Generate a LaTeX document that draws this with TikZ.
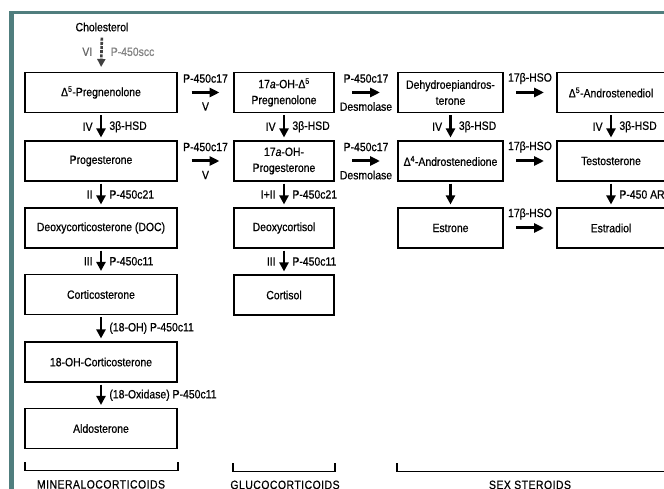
\documentclass[tikz,border=0pt]{standalone}
\usepackage{fontspec}
\setmainfont{Liberation Sans}[FakeStretch=0.87,FakeBold=0.6]
\usetikzlibrary{arrows.meta,calc}
\definecolor{framecol}{RGB}{80,126,126}
\definecolor{faint}{RGB}{130,130,130}

% one enzymatic step downwards: from, to, left label, right label
\newcommand{\enzstep}[4]{%
  \draw[dnarrow] (#1.south) -- (#2.north)
    node[midway, left=7pt] {#3}
    node[midway, right=7pt] {#4};}
% one enzymatic step to the right: from, to, label above, label below
\newcommand{\enzside}[4]{%
  \draw[rtarrow] ($(#1.east)!0.5!(#2.west)+(-14,0)$) -- ++(28,0);
  \path ($(#1.east)!0.5!(#2.west)$) node[yshift=14pt] {#3} node[yshift=-14pt] {#4};}

\begin{document}
\begin{tikzpicture}[x=1pt,y=-1pt,
  every node/.style={font=\fontsize{12}{16}\selectfont, inner sep=0pt},
  box/.style={draw, line width=1.1pt, minimum height=40pt, align=center},
  dnarrow/.style={line width=2.8pt, -{Triangle[width=9pt,length=9pt]},
                  shorten <=2pt, shorten >=3pt},
  rtarrow/.style={line width=3pt, -{Triangle[width=9pt,length=10pt]}},
  bracket/.style={line width=1.8pt},
  group/.style={font=\fontsize{12}{14}\selectfont\addfontfeatures{LetterSpace=4}, anchor=base}
]
\clip (0,0) rectangle (664,489);
\fill[white] (0,0) rectangle (664,489);
% frame
\fill[framecol] (9,11) rectangle (13.5,489);
\fill[framecol] (9,11) rectangle (664,14.5);

% mineralocorticoid column
\node (chol) at (102,27) {Cholesterol};
\node[box, minimum width=152pt] (preg)   at (101,92.5) {Δ\textsuperscript{5}-Pregnenolone};
\node[box, minimum width=152pt] (prog)   at (101,161)  {Progesterone};
\node[box, minimum width=152pt] (doc)    at (101,228)  {Deoxycorticosterone (DOC)};
\node[box, minimum width=152pt] (cort)   at (101,294.5){Corticosterone};
\node[box, minimum width=152pt] (ohcort) at (101,362)  {18-OH-Corticosterone};
\node[box, minimum width=152pt] (aldo)   at (101,428.5){Aldosterone};

% glucocorticoid column
\node[box, minimum width=100pt] (ohpreg) at (284,92.5) {17\textit{a}-OH-Δ\textsuperscript{5}\\Pregnenolone};
\node[box, minimum width=100pt] (ohprog) at (284,161)  {17\textit{a}-OH-\\Progesterone};
\node[box, minimum width=100pt] (dcol)   at (284,228)  {Deoxycortisol};
\node[box, minimum width=100pt] (cortis) at (284,295)  {Cortisol};

% sex steroid columns
\node[box, minimum width=105pt] (dhea)   at (450.5,92.5) {Dehydroepiandros-\\terone};
\node[box, minimum width=105pt] (adione) at (450.5,161)  {Δ\textsuperscript{4}-Androstenedione};
\node[box, minimum width=105pt] (estrone) at (450.5,228) {Estrone};
\node[box, minimum width=108pt] (adiol)  at (611,92.5) {Δ\textsuperscript{5}-Androstenediol};
\node[box, minimum width=108pt] (testo)  at (611,161)  {Testosterone};
\node[box, minimum width=108pt] (estrad) at (611,228)  {Estradiol};

% side-chain cleavage
\draw[black!75, line width=2.6pt, dash pattern=on 3pt off 1.2pt,
      -{Triangle[width=8pt,length=8pt]}, shorten <=6pt, shorten >=5pt] (chol.south) -- (preg.north)
  node[midway, left=8pt, text=black!60] {VI}
  node[midway, right=8pt, text=faint] {P-450scc};

% vertical steps
\enzstep{preg}{prog}{IV}{3β-HSD}
\enzstep{prog}{doc}{II}{P-450c21}
\enzstep{doc}{cort}{III}{P-450c11}
\enzstep{cort}{ohcort}{}{(18-OH) P-450c11}
\enzstep{ohcort}{aldo}{}{(18-Oxidase) P-450c11}
\enzstep{ohpreg}{ohprog}{IV}{3β-HSD}
\enzstep{ohprog}{dcol}{I+II}{P-450c21}
\enzstep{dcol}{cortis}{III}{P-450c11}
\enzstep{dhea}{adione}{IV}{3β-HSD}
\enzstep{adione}{estrone}{}{}
\enzstep{adiol}{testo}{IV}{3β-HSD}
\enzstep{testo}{estrad}{}{P-450 ARO}

% horizontal steps
\enzside{preg}{ohpreg}{P-450c17}{V}
\enzside{prog}{ohprog}{P-450c17}{V}
\enzside{ohpreg}{dhea}{P-450c17}{Desmolase}
\enzside{ohprog}{adione}{P-450c17}{Desmolase}
\enzside{dhea}{adiol}{17β-HSO}{}
\enzside{adione}{testo}{17β-HSO}{}
\enzside{estrone}{estrad}{17β-HSO}{}

% group brackets
\draw[bracket] (25,462) -- (25,470.5) -- (178,470.5) -- (178,462);
\draw[bracket] (233,463) -- (233,471.5) -- (335,471.5) -- (335,463);
\draw[bracket] (397,463) -- (397,471.5) -- (670,471.5);
\node[group] (minlab) at (101,488.5) {MINERALOCORTICOIDS};
\node[group] (glulab) at (285,489) {GLUCOCORTICOIDS};
\node[group] (sexlab) at (530,489) {SEX STEROIDS};
\end{tikzpicture}
\end{document}
